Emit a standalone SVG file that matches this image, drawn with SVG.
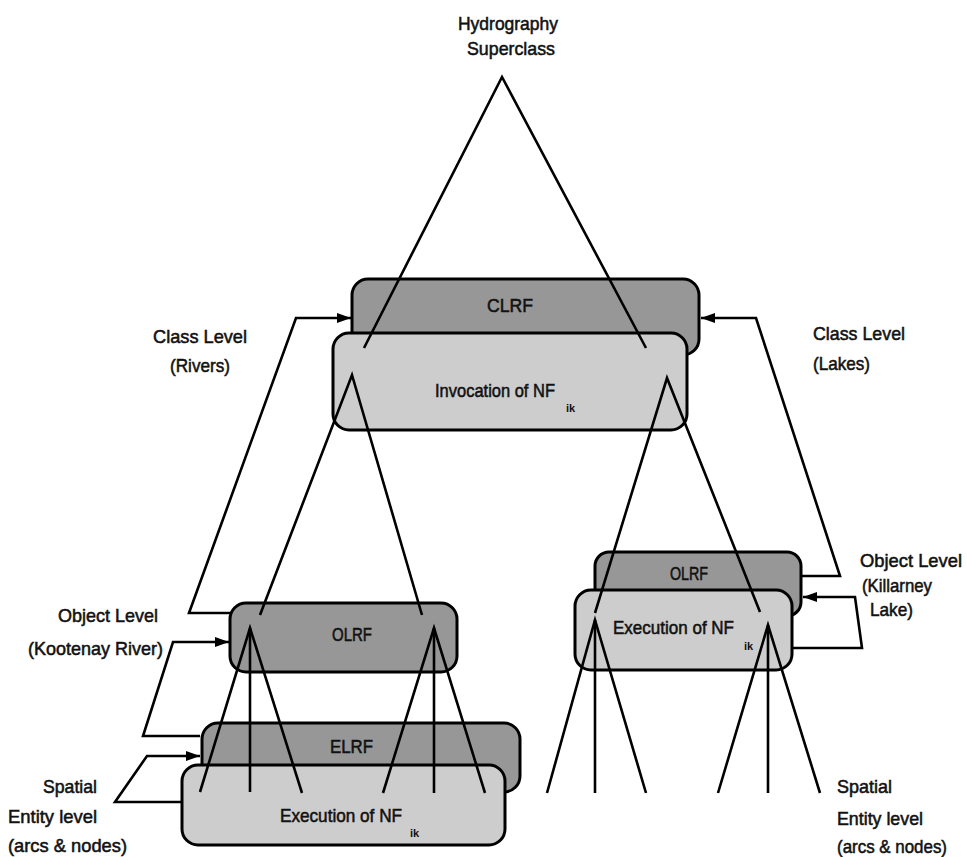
<svg xmlns="http://www.w3.org/2000/svg" width="967" height="857" viewBox="0 0 967 857">
  <defs>
    <marker id="arrow" viewBox="0 0 14 10" refX="14" refY="5" markerWidth="14" markerHeight="10" markerUnits="userSpaceOnUse" orient="auto">
      <path d="M0,0 L14,5 L0,10 Z" fill="#000"/>
    </marker>
  </defs>
  <style>
    .lbl { font-family: "Liberation Sans", Arial, sans-serif; font-size: 19px; fill: #111; stroke: #111; stroke-width: 0.55px; }
    .sub { font-family: "Liberation Sans", Arial, sans-serif; font-size: 11px; font-weight: bold; fill: #111; }
    .dark { fill: #979797; stroke: #000; stroke-width: 3; }
    .light { fill: #cdcdcd; stroke: #000; stroke-width: 3; }
    .ln { fill: none; stroke: #000; stroke-width: 2.6; stroke-linejoin: miter; }
  </style>
  <rect width="967" height="857" fill="#fff"/>

  <!-- free-standing labels -->
  <g id="labels">
    <text class="lbl" x="458" y="30" textLength="100" lengthAdjust="spacingAndGlyphs">Hydrography</text>
    <text class="lbl" x="467" y="55" textLength="88" lengthAdjust="spacingAndGlyphs">Superclass</text>
    <text class="lbl" x="153" y="343" textLength="94" lengthAdjust="spacingAndGlyphs">Class Level</text>
    <text class="lbl" x="170" y="372" textLength="60" lengthAdjust="spacingAndGlyphs">(Rivers)</text>
    <text class="lbl" x="813" y="340" textLength="92" lengthAdjust="spacingAndGlyphs">Class Level</text>
    <text class="lbl" x="813" y="370" textLength="57" lengthAdjust="spacingAndGlyphs">(Lakes)</text>
    <text class="lbl" x="58" y="622" textLength="100" lengthAdjust="spacingAndGlyphs">Object Level</text>
    <text class="lbl" x="28" y="655" textLength="135" lengthAdjust="spacingAndGlyphs">(Kootenay River)</text>
    <text class="lbl" x="860" y="567" textLength="102" lengthAdjust="spacingAndGlyphs">Object Level</text>
    <text class="lbl" x="862" y="592" textLength="70" lengthAdjust="spacingAndGlyphs">(Killarney</text>
    <text class="lbl" x="870" y="616" textLength="43" lengthAdjust="spacingAndGlyphs">Lake)</text>
    <text class="lbl" x="43" y="793" textLength="54" lengthAdjust="spacingAndGlyphs">Spatial</text>
    <text class="lbl" x="8" y="823" textLength="89" lengthAdjust="spacingAndGlyphs">Entity level</text>
    <text class="lbl" x="8" y="852" textLength="119" lengthAdjust="spacingAndGlyphs">(arcs &amp; nodes)</text>
    <text class="lbl" x="837" y="793" textLength="55" lengthAdjust="spacingAndGlyphs">Spatial</text>
    <text class="lbl" x="837" y="825" textLength="86" lengthAdjust="spacingAndGlyphs">Entity level</text>
    <text class="lbl" x="837" y="853" textLength="110" lengthAdjust="spacingAndGlyphs">(arcs &amp; nodes)</text>
  </g>

  <!-- class level: CLRF behind the invocation box -->
  <g id="clrf">
    <rect class="dark" x="352" y="279" width="347" height="76" rx="16"/>
    <text class="lbl" x="487" y="312" textLength="46" lengthAdjust="spacingAndGlyphs">CLRF</text>
  </g>
  <g id="invocation">
    <rect class="light" x="333" y="333" width="354" height="97" rx="16"/>
    <text class="lbl" x="435" y="397" textLength="120" lengthAdjust="spacingAndGlyphs">Invocation of NF</text>
    <text class="sub" x="566" y="412">ik</text>
  </g>

  <!-- object level, rivers -->
  <g id="olrf-river">
    <rect class="dark" x="230" y="603" width="227" height="69" rx="16"/>
    <text class="lbl" x="332" y="641" textLength="40" lengthAdjust="spacingAndGlyphs">OLRF</text>
  </g>

  <!-- object level, lakes -->
  <g id="olrf-lake">
    <rect class="dark" x="595" y="552" width="206" height="64" rx="14"/>
    <text class="lbl" x="670" y="580" textLength="38" lengthAdjust="spacingAndGlyphs">OLRF</text>
  </g>
  <g id="execution-lake">
    <rect class="light" x="575" y="590" width="217" height="80" rx="16"/>
    <text class="lbl" x="613" y="634" textLength="121" lengthAdjust="spacingAndGlyphs">Execution of NF</text>
    <text class="sub" x="744" y="650">ik</text>
  </g>

  <!-- spatial entity level, rivers -->
  <g id="elrf">
    <rect class="dark" x="202" y="723" width="318" height="69" rx="16"/>
    <text class="lbl" x="330" y="753" textLength="43" lengthAdjust="spacingAndGlyphs">ELRF</text>
  </g>
  <g id="execution-river">
    <rect class="light" x="182" y="765" width="323" height="80" rx="16"/>
    <text class="lbl" x="280" y="822" textLength="122" lengthAdjust="spacingAndGlyphs">Execution of NF</text>
    <text class="sub" x="410" y="837">ik</text>
  </g>

  <g id="connectors">
    <!-- superclass to class level -->
    <polyline class="ln" points="364,348 502,77 646,348"/>
    <!-- class level to object level -->
    <polyline class="ln" points="260,615 352,375 422,615"/>
    <polyline class="ln" points="595,613 667,378 760,612"/>
    <!-- object level (rivers) to spatial entities -->
    <polyline class="ln" points="200,792 250,628 302,793"/>
    <line class="ln" x1="250" y1="628" x2="250" y2="792"/>
    <polyline class="ln" points="383,793 434,628 485,793"/>
    <line class="ln" x1="434" y1="628" x2="434" y2="793"/>
    <!-- object level (lakes) to spatial entities -->
    <polyline class="ln" points="547,793 595,620 646,793"/>
    <line class="ln" x1="595" y1="620" x2="595" y2="793"/>
    <polyline class="ln" points="718,793 768,625 820,793"/>
    <line class="ln" x1="768" y1="625" x2="768" y2="793"/>

    <!-- feedback loops -->
    <polyline class="ln" points="232,613 189,613 296,318 351,318" marker-end="url(#arrow)"/>
    <polyline class="ln" points="200,736 143,736 173,642 229,642" marker-end="url(#arrow)"/>
    <polyline class="ln" points="182,802 115,802 147,756 200,756" marker-end="url(#arrow)"/>
    <polyline class="ln" points="801,576 840,576 756,318 701,318" marker-end="url(#arrow)"/>
    <polyline class="ln" points="792,648 862,648 855,597 803,597" marker-end="url(#arrow)"/>
  </g>
</svg>
